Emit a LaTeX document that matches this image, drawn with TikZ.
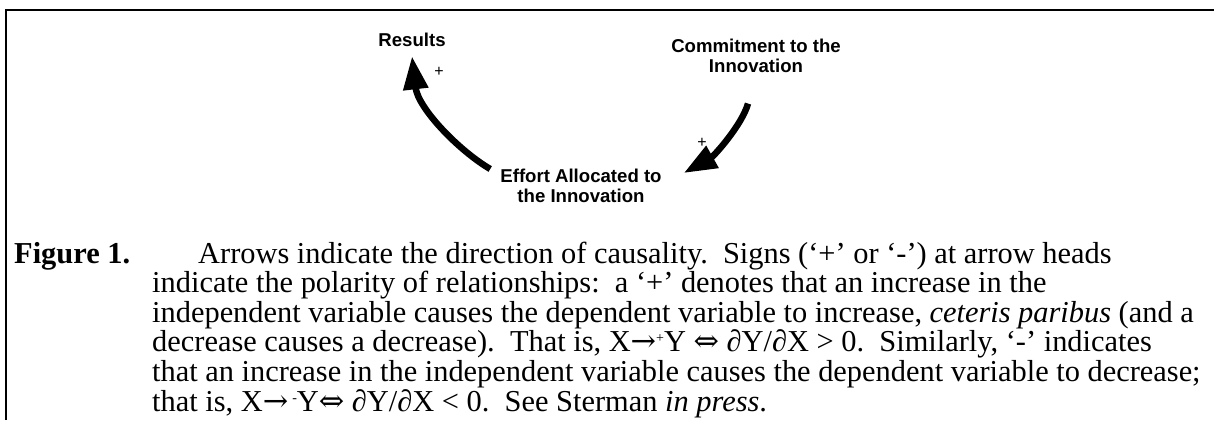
\documentclass[tikz,border=0pt]{standalone}
\usepackage{fontspec}
\setmainfont{Liberation Serif}
\setsansfont{Liberation Sans}
\newfontfamily\arrowfont{DejaVu Serif}
\usetikzlibrary{arrows.meta}

\newcommand{\polsup}[1]{{\fontsize{14}{14}\selectfont\raisebox{9pt}{#1}}}

\tikzset{
  varlabel/.style={font=\sffamily\bfseries\fontsize{18.6}{19.5}\selectfont, align=center, inner sep=0pt},
  polarity/.style={font=\sffamily\fontsize{16}{16}\selectfont, inner sep=0pt},
  causal/.style={line width=6.5pt, -{Triangle[length=33pt,width=24pt]}},
}

\begin{document}
\begin{tikzpicture}[x=1pt,y=-1pt]
\useasboundingbox (0,0) rectangle (1214,420);

% frame
\draw [line width=2pt] (6,420) -- (6,10) -- (1214,10);

% variables
\node [varlabel, anchor=base] (results) at (412,47) {Results};
\node [varlabel, anchor=north] (commit) at (756,39) {Commitment to the\\Innovation};
\node [varlabel, anchor=north] (effort) at (581,169) {Effort Allocated to\\the Innovation};

% links
\draw [causal] ([xshift=-10pt]effort.north west) .. controls (458,150) and (418,108) .. ([yshift=-9pt]results.south);
\draw [causal] ([xshift=-8pt,yshift=-31pt]commit.south) .. controls (742,125) and (714,156) .. ([xshift=22pt,yshift=-4pt]effort.north east);

% polarities
\node [polarity] (plusres) at (439,72) {+};
\node [polarity] (pluseff) at (702,143) {+};

% caption
\node [anchor=base west, inner sep=0pt, font=\bfseries\fontsize{30.4}{29.6}\selectfont] (figlabel) at (14,263) {Figure 1.};
\node [anchor=base west, inner sep=0pt, font=\fontsize{30.4}{29.6}\selectfont] (caption) at (152,263) {\parbox[t]{1062pt}{\raggedright
\hspace*{46pt}Arrows indicate the direction of causality.\ \ Signs (`+' or `-') at arrow heads\\
indicate the polarity of relationships:\ \ a `+' denotes that an increase in the\\
independent variable causes the dependent variable to increase, \textit{ceteris paribus} (and a\\
decrease causes a decrease).\ \ That is, X{\arrowfont →}\polsup{+}Y {\arrowfont ⇔} ∂Y/∂X > 0.\ \ Similarly, `-' indicates\\
that an increase in the independent variable causes the dependent variable to decrease;\\
that is, X{\arrowfont →}\hspace{4pt}\polsup{-}Y{\arrowfont ⇔} ∂Y/∂X < 0.\ \ See Sterman \textit{in press}.}};

\end{tikzpicture}
\end{document}
